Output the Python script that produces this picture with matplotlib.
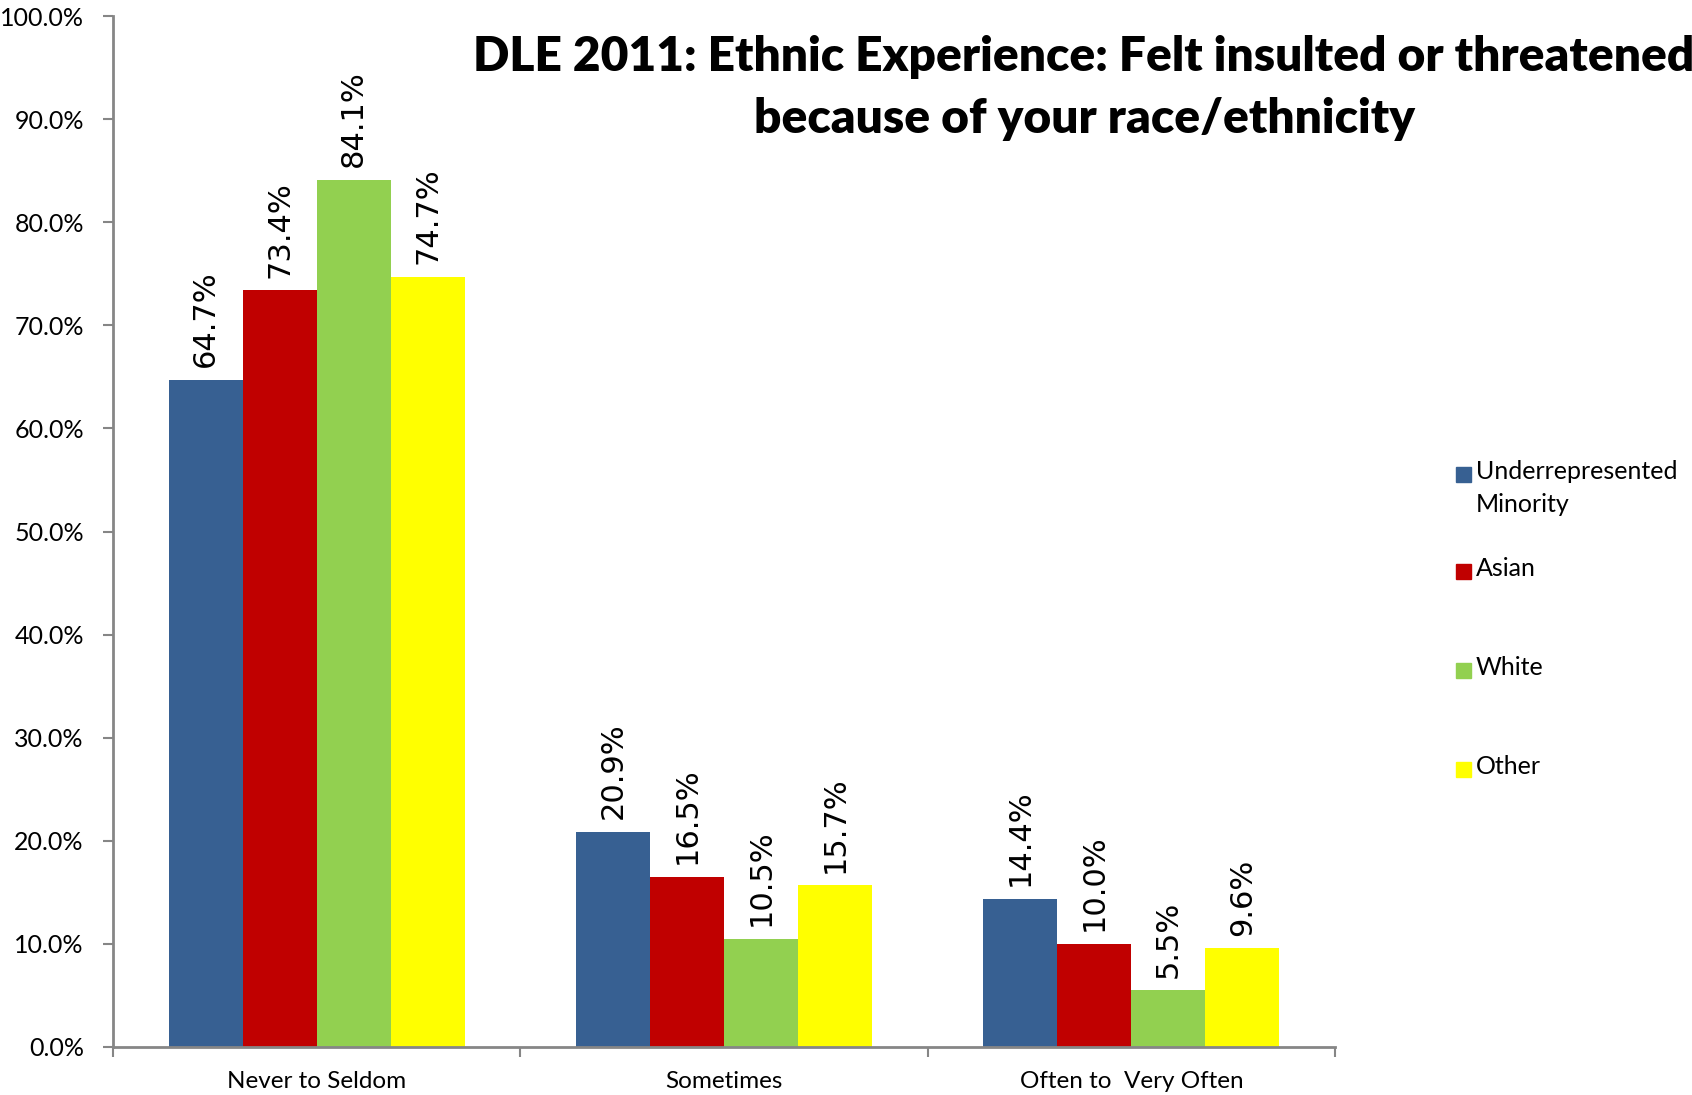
"""DLE 2011 ethnic experience chart: felt insulted or threatened because of race/ethnicity.

Grouped bars (4 groups of students x 3 frequency answers), value labels rotated
above each bar, legend on the right. Output: out.png
"""

import matplotlib

matplotlib.use("Agg")
import matplotlib.pyplot as plt
import matplotlib.ticker as mticker
import numpy as np
from matplotlib.patches import Rectangle

CATEGORIES = ["Never to Seldom", "Sometimes", "Often to  Very Often"]
SERIES = ["Underrepresented\nMinority", "Asian", "White", "Other"]

# percentages
URM   = [64.7, 20.9, 14.4]
ASIAN = [73.4, 16.5, 10.0]
WHITE = [84.1, 10.5, 5.5]
OTHER = [74.7, 15.7, 9.6]

YTICKS = [0, 10, 20, 30, 40, 50, 60, 70, 80, 90, 100]

TITLE = ("DLE 2011: Ethnic Experience: Felt insulted or threatened\n"
         "because of your race/ethnicity")

COLORS = ["#376092", "#C00000", "#92D050", "#FFFF00"]
AXIS_GREY = "#868686"
LABEL_FONT = ["Lato", "DejaVu Sans"]

W, H, DPI = 1692, 1095, 100


def main() -> None:
    fig = plt.figure(figsize=(W / DPI, H / DPI), dpi=DPI)
    ax = fig.add_axes([113 / W, 1 - 1047 / H, (1335 - 113) / W, (1047 - 16) / H])

    data = [URM, ASIAN, WHITE, OTHER]
    x = np.arange(len(CATEGORIES)) + 0.5
    width = 1 / 5.5  # Excel gap width 150 %

    for i, (vals, color) in enumerate(zip(data, COLORS)):
        pos = x + (i - 1.5) * width
        bars = ax.bar(pos, vals, width, color=color, linewidth=0, zorder=2)
        for bar, v in zip(bars, vals):
            ax.annotate(f"{v:.1f}%",
                        xy=(bar.get_x() + bar.get_width() / 2, v),
                        xytext=(0, 9), textcoords="offset points",
                        ha="center", va="bottom", rotation=90,
                        fontsize=22, family="DejaVu Sans", color="black")

    ax.set_xlim(0, len(CATEGORIES))
    ax.set_ylim(0, 100)
    ax.set_yticks(YTICKS)
    ax.yaxis.set_major_formatter(mticker.FuncFormatter(lambda v, _: f"{v:.1f}%"))
    ax.set_xticks(np.arange(len(CATEGORIES) + 1))
    ax.set_xticklabels([])
    ax.set_xticks(x, minor=True)
    ax.set_xticklabels(CATEGORIES, minor=True, fontsize=17.5, family=LABEL_FONT)

    for side in ("top", "right"):
        ax.spines[side].set_visible(False)
    for side in ("left", "bottom"):
        ax.spines[side].set_color(AXIS_GREY)
        ax.spines[side].set_linewidth(2)

    ax.tick_params(axis="y", which="major", length=7, width=1.5, color=AXIS_GREY,
                   labelsize=18, pad=14)
    for lab in ax.get_yticklabels():
        lab.set_family(LABEL_FONT)
    ax.tick_params(axis="x", which="major", length=7, width=1.5, color=AXIS_GREY)
    ax.tick_params(axis="x", which="minor", length=0, pad=17)

    # legend on the right, one entry every ~99 px; the square sits on the first line
    legend_y = [474, 571, 670, 769]
    for name, color, yy in zip(SERIES, COLORS, legend_y):
        fig.patches.append(Rectangle((1456 / W, 1 - (yy + 8) / H), 15 / W, 15 / H,
                                     transform=fig.transFigure, color=color))
        fig.text(1476 / W, 1 - (yy - 14) / H, name, ha="left", va="top",
                 fontsize=18, family=LABEL_FONT, linespacing=1.55)

    fig.text(1084 / W, 1 - 88 / H, TITLE, ha="center", va="center",
             fontsize=34.5, fontweight="heavy", family=LABEL_FONT, linespacing=1.48)

    fig.savefig("out.png", dpi=DPI)
    plt.close(fig)


if __name__ == "__main__":
    main()
